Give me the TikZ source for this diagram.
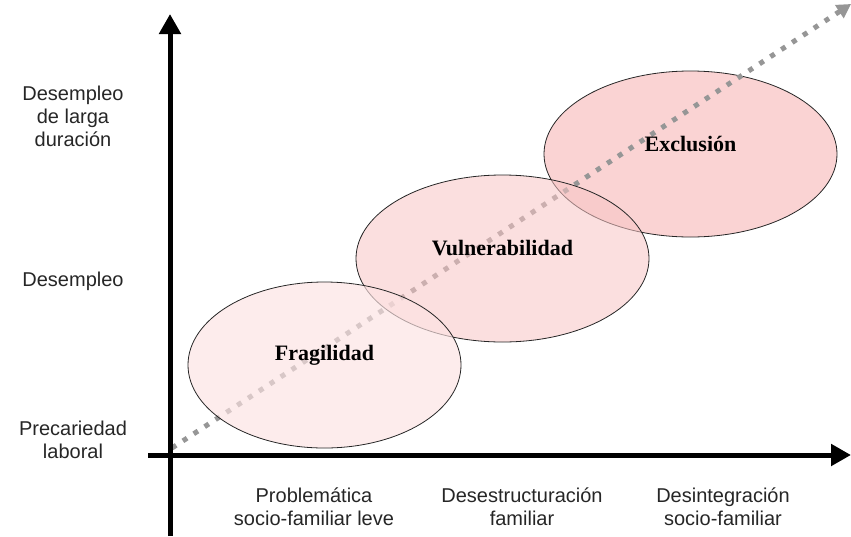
\documentclass[tikz,border=0pt]{standalone}
\usepackage{fontspec}
\setmainfont{Liberation Serif}
\setsansfont{Liberation Sans}
\usetikzlibrary{shapes.geometric}
\usetikzlibrary{arrows.meta}
\definecolor{fragpink}{RGB}{252,226,226}
\definecolor{vulnpink}{RGB}{248,197,197}
\definecolor{exclpink}{RGB}{250,211,211}
\definecolor{trendgray}{RGB}{150,150,150}

\begin{document}
\begin{tikzpicture}[x=1pt,y=-1pt]
  \tikzset{ZoneStyle/.style = {
    shape         = ellipse,
    draw          = black!85,
    line width    = 0.8pt,
    inner sep     = 0pt,
    outer sep     = 0pt
    }
  }
  \tikzset{ZoneTextStyle/.style = {
    font          = \fontsize{22}{24}\selectfont\bfseries,
    text          = black,
    inner sep     = 0pt
    }
  }
  \tikzset{AxisLabelStyle/.style = {
    font          = \sffamily\fontsize{20}{23}\selectfont,
    text          = black!85,
    align         = center,
    inner sep     = 0pt
    }
  }
  \tikzset{AxisStyle/.style = {
    draw          = black,
    line width    = 5pt,
    -{Triangle[length=20pt,width=21pt]}
    }
  }
  \tikzset{TrendStyle/.style = {
    draw          = trendgray,
    line width    = 5pt,
    dash pattern  = on 5pt off 8pt,
    -{Triangle[length=14pt,width=15pt,fill=trendgray]}
    }
  }

  \useasboundingbox (0,0) rectangle (851,536);

  % axes end points
  \coordinate (Ybot) at (170,536);
  \coordinate (Ytop) at (170,14);
  \coordinate (Xleft) at (148,455);
  \coordinate (Xright) at (851,455);
  \coordinate (S) at (172,448);
  \coordinate (E) at (851,4);

  \node[ZoneStyle, fill=exclpink, minimum width=293pt, minimum height=166pt](Z3) at (690.5,154) {};
  \draw[TrendStyle](S) -- (E);
  \node[ZoneStyle, fill=vulnpink, fill opacity=0.55, minimum width=293pt, minimum height=167pt](Z2) at (502.5,258.5) {};
  \node[ZoneStyle, fill=fragpink, fill opacity=0.65, minimum width=273pt, minimum height=166pt](Z1) at (324.5,365) {};

  \node[ZoneTextStyle](T1) at ([yshift=10pt]Z1.center) {Fragilidad};
  \node[ZoneTextStyle](T2) at ([yshift=10pt]Z2.center) {Vulnerabilidad};
  \node[ZoneTextStyle](T3) at ([yshift=10pt]Z3.center) {Exclusión};

  \draw[AxisStyle](Ybot) -- (Ytop);
  \draw[AxisStyle](Xleft) -- (Xright);

  \node[AxisLabelStyle](L3) at (73,116) {Desempleo\\de larga\\duración};
  \node[AxisLabelStyle](L2) at (73,281) {Desempleo};
  \node[AxisLabelStyle](L1) at (73,440) {Precariedad\\laboral};

  \node[AxisLabelStyle](B1) at (314,507) {Problemática\\socio-familiar leve};
  \node[AxisLabelStyle](B2) at (522,507) {Desestructuración\\familiar};
  \node[AxisLabelStyle](B3) at (723,507) {Desintegración\\socio-familiar};
\end{tikzpicture}
\end{document}
